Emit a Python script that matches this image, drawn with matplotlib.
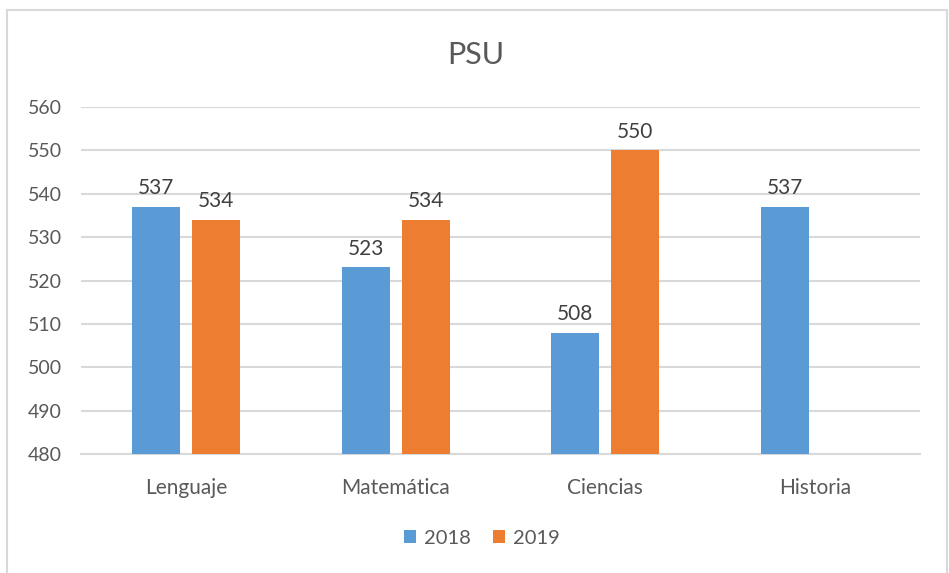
import matplotlib
matplotlib.use("Agg")
import matplotlib.pyplot as plt
import numpy as np
from matplotlib.patches import Rectangle

categories = ["Lenguaje", "Matemática", "Ciencias", "Historia"]
series_names = ["2018", "2019"]
values_2018 = [537, 523, 508, 537]
values_2019 = [534, 534, 550, None]
yticks = [480, 490, 500, 510, 520, 530, 540, 550, 560]

plt.rcParams['font.family'] = ['Lato', 'DejaVu Sans']
W, H = 949, 573
fig = plt.figure(figsize=(W/100, H/100), dpi=100)
fig.patch.set_facecolor('white')

# outer chart border
fig.add_artist(Rectangle((7/W, -0.01), (947-7)/W, 1 - 10/H + 0.01, transform=fig.transFigure,
                         fill=False, edgecolor='#D9D9D9', linewidth=1.5))

ax = fig.add_axes([81/W, 1 - 454/H, (920-81)/W, (454-107)/H])
text_color = '#595959'
blue = '#5B9BD5'
orange = '#ED7D31'

x = np.arange(len(categories))
bw = 0.229
off = 0.143
v18 = np.array(values_2018, dtype=float)
v19 = np.array([np.nan if v is None else v for v in values_2019], dtype=float)
base = yticks[0]
b1 = ax.bar(x - off, v18 - base, bw, bottom=base, color=blue, label=series_names[0], zorder=3)
m = ~np.isnan(v19)
b2 = ax.bar(x[m] + off, v19[m] - base, bw, bottom=base, color=orange, label=series_names[1], zorder=3)

for xi, v in zip(x - off, v18):
    ax.annotate(f"{int(v)}", (xi, v), xytext=(0, 6), textcoords='offset points',
                ha='center', va='bottom', fontsize=15, color='#404040')
for xi, v in zip(x[m] + off, v19[m]):
    ax.annotate(f"{int(v)}", (xi, v), xytext=(0, 6), textcoords='offset points',
                ha='center', va='bottom', fontsize=15, color='#404040')

ax.set_xlim(-0.5, len(categories) - 0.5)
ax.set_ylim(yticks[0], yticks[-1])
ax.set_yticks(yticks)
ax.set_xticks(x)
ax.set_xticklabels(categories)
ax.tick_params(axis='both', length=0, labelcolor=text_color)
ax.tick_params(axis='y', pad=14, labelsize=14)
ax.tick_params(axis='x', pad=17, labelsize=15)
ax.yaxis.grid(True, color='#D9D9D9', linewidth=1.5, zorder=0)
for s in ['top', 'right', 'left']:
    ax.spines[s].set_visible(False)
ax.spines['bottom'].set_color('#D9D9D9')
ax.spines['bottom'].set_linewidth(1.5)
ax.set_facecolor('none')

fig.text(476/W, 1 - 55/H, "PSU", ha='center', va='center', fontsize=22, color=text_color)

leg = fig.legend(handles=[b1, b2], labels=series_names, loc='center', bbox_to_anchor=(482/W, 1 - 538/H),
                 ncol=2, frameon=False, fontsize=14.5, handlelength=0.6, handleheight=0.6,
                 handletextpad=0.4, columnspacing=1.1)
for t in leg.get_texts():
    t.set_color(text_color)

fig.savefig("out.png", dpi=100, facecolor='white')
